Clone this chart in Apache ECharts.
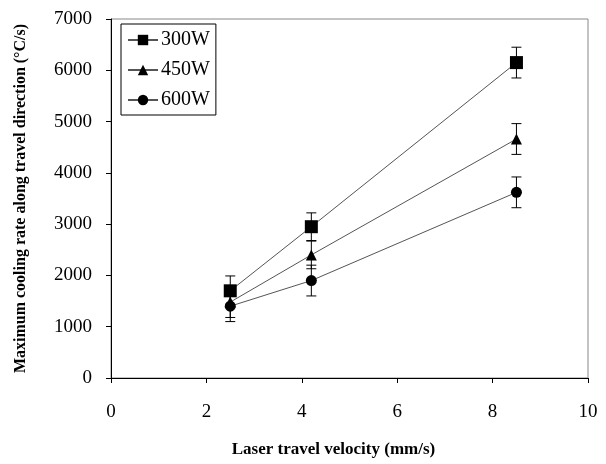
<!DOCTYPE html>
<html>
<head>
<meta charset="utf-8">
<script src="https://cdn.jsdelivr.net/npm/echarts@6/dist/echarts.min.js"></script>
<style>
  html, body { margin: 0; padding: 0; background: #fff; }
  #chart { width: 606px; height: 464px; }
</style>
</head>
<body>
<div id="chart"></div>
<script>
// Laser travel velocity (mm/s)
var velocity = [2.5, 4.2, 8.5];

// Maximum cooling rate (°C/s) and error half-widths per laser power
var rate300 = [1700, 2950, 6150];
var err300 = [290, 270, 300];
var rate450 = [1480, 2400, 4660];
var err450 = [300, 270, 300];
var rate600 = [1400, 1900, 3620];
var err600 = [300, 300, 300];

var seriesNames = ['300W', '450W', '600W'];
var yTicks = [0, 1000, 2000, 3000, 4000, 5000, 6000, 7000];
var xTicks = [0, 2, 4, 6, 8, 10];

var serif = 'Liberation Serif, Times New Roman, serif';

function points(vals) {
  return velocity.map(function (v, i) { return [v, vals[i]]; });
}
function bars(vals, errs) {
  return velocity.map(function (v, i) { return [v, vals[i] - errs[i], vals[i] + errs[i]]; });
}

function renderErrorBar(params, api) {
  var x = api.value(0);
  var lo = api.coord([x, api.value(1)]);
  var hi = api.coord([x, api.value(2)]);
  var half = 5;
  var style = { stroke: '#000', lineWidth: 1 };
  return {
    type: 'group',
    children: [
      { type: 'line', shape: { x1: lo[0], y1: lo[1], x2: hi[0], y2: hi[1] }, style: style },
      { type: 'line', shape: { x1: lo[0] - half, y1: lo[1], x2: lo[0] + half, y2: lo[1] }, style: style },
      { type: 'line', shape: { x1: hi[0] - half, y1: hi[1], x2: hi[0] + half, y2: hi[1] }, style: style }
    ]
  };
}

function lineSeries(name, vals, symbol, size) {
  return {
    name: name,
    type: 'line',
    data: points(vals),
    symbol: symbol,
    symbolSize: size,
    showAllSymbol: true,
    itemStyle: { color: '#000' },
    lineStyle: { color: '#555', width: 1 },
    z: 3
  };
}

function errSeries(vals, errs) {
  return {
    type: 'custom',
    renderItem: renderErrorBar,
    data: bars(vals, errs),
    encode: { x: 0, y: [1, 2] },
    silent: true,
    z: 2
  };
}

var chart = echarts.init(document.getElementById('chart'), null, { renderer: 'canvas' });

chart.setOption({
  animation: false,
  backgroundColor: '#fff',
  grid: {
    left: 111, right: 18, top: 19, bottom: 86,
    show: true, borderColor: '#888', borderWidth: 1
  },
  legend: {
    orient: 'vertical',
    left: 121, top: 24,
    data: seriesNames,
    itemWidth: 30, itemHeight: 13,
    itemGap: 10,
    padding: [6, 6, 5, 6],
    borderColor: '#000', borderWidth: 1,
    backgroundColor: '#fff',
    textStyle: { fontFamily: serif, fontSize: 20, color: '#000', padding: [0, 0, 0, -2] }
  },
  xAxis: {
    type: 'value',
    min: 0, max: 10, interval: 2,
    name: 'Laser travel velocity (mm/s)',
    nameLocation: 'middle',
    nameGap: 63,
    nameTextStyle: { fontFamily: serif, fontSize: 17, fontWeight: 'bold', color: '#000', padding: [0, 32, 0, 0] },
    axisLine: { onZero: false, lineStyle: { color: '#000', width: 1 } },
    axisTick: { inside: false, length: 5, lineStyle: { color: '#000' } },
    axisLabel: {
      margin: 25, fontFamily: serif, fontSize: 19, color: '#000',
      formatter: function (v) { return xTicks.indexOf(v) >= 0 ? String(v) : ''; }
    },
    splitLine: { show: false }
  },
  yAxis: {
    type: 'value',
    min: 0, max: 7000, interval: 1000,
    name: 'Maximum cooling rate along travel direction (°C/s)',
    nameLocation: 'middle',
    nameGap: 82,
    nameTextStyle: { fontFamily: serif, fontSize: 16, fontWeight: 'bold', color: '#000' },
    axisLine: { lineStyle: { color: '#000', width: 1 } },
    axisTick: { inside: false, length: 5, lineStyle: { color: '#000' } },
    axisLabel: {
      margin: 19, fontFamily: serif, fontSize: 19, color: '#000',
      formatter: function (v) { return yTicks.indexOf(v) >= 0 ? String(v) : ''; }
    },
    splitLine: { show: false }
  },
  series: [
    errSeries(rate300, err300),
    errSeries(rate450, err450),
    errSeries(rate600, err600),
    lineSeries(seriesNames[0], rate300, 'rect', 13),
    lineSeries(seriesNames[1], rate450, 'triangle', 11),
    lineSeries(seriesNames[2], rate600, 'circle', 11)
  ]
});
</script>
</body>
</html>
